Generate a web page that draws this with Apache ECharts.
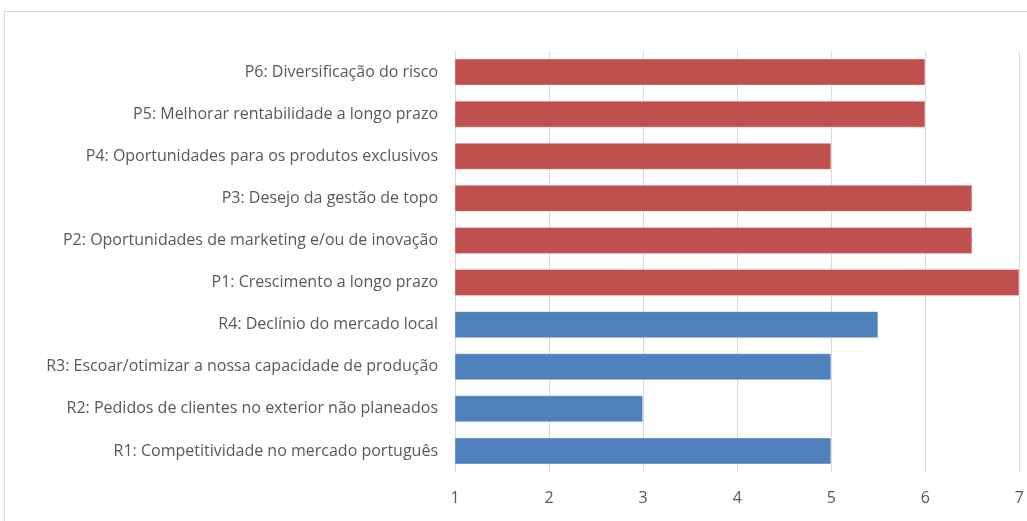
<!DOCTYPE html>
<html>
<head>
<meta charset="utf-8">
<script src="https://cdn.jsdelivr.net/npm/echarts@6/dist/echarts.min.js"></script>
<style>
  html, body { margin: 0; padding: 0; background: #fff; }
  #frame { position: absolute; left: 4px; top: 11px; width: 1030px; height: 520px; border: 1px solid #d9d9d9; box-sizing: border-box; }
  #chart { position: absolute; left: 0; top: 0; width: 1027px; height: 521px; }
</style>
</head>
<body>
<div id="frame"></div>
<div id="chart"></div>
<script>
// Motivations, listed bottom to top
const categories = [
  'R1: Competitividade no mercado português',
  'R2: Pedidos de clientes no exterior não planeados',
  'R3: Escoar/otimizar a nossa capacidade de produção',
  'R4: Declínio do mercado local',
  'P1: Crescimento a longo prazo',
  'P2: Oportunidades de marketing e/ou de inovação',
  'P3: Desejo da gestão de topo',
  'P4: Oportunidades para os produtos exclusivos',
  'P5: Melhorar rentabilidade a longo prazo',
  'P6: Diversificação do risco'
];
const scores = [5, 3, 5, 5.5, 7, 6.5, 6.5, 5, 6, 6];
const groups = ['R', 'R', 'R', 'R', 'P', 'P', 'P', 'P', 'P', 'P'];
const groupColors = { R: '#4F81BD', P: '#C0504D' };
const axisTicks = [1, 2, 3, 4, 5, 6, 7];

const chart = echarts.init(document.getElementById('chart'), null, { renderer: 'canvas' });
chart.setOption({
  animation: false,
  grid: { left: 455, right: 4, top: 51, bottom: 49, containLabel: false },
  xAxis: {
    type: 'value',
    min: axisTicks[0],
    max: axisTicks[axisTicks.length - 1],
    interval: 1,
    axisLine: { show: false },
    axisTick: { show: false },
    axisLabel: { color: '#595959', fontSize: 16, fontFamily: 'Open Sans', margin: 18 },
    splitLine: { show: true, lineStyle: { color: '#d9d9d9', width: 1 } }
  },
  yAxis: {
    type: 'category',
    data: categories,
    axisLine: { show: false },
    axisTick: { show: false },
    axisLabel: { color: '#595959', fontSize: 16, fontFamily: 'Open Sans', margin: 17 }
  },
  series: [{
    type: 'bar',
    data: scores.map((v, i) => ({ value: v, itemStyle: { color: groupColors[groups[i]] } })),
    barWidth: 27,
    itemStyle: { borderColor: 'rgba(255,255,255,0.35)', borderWidth: 1 }
  }]
});
</script>
</body>
</html>
